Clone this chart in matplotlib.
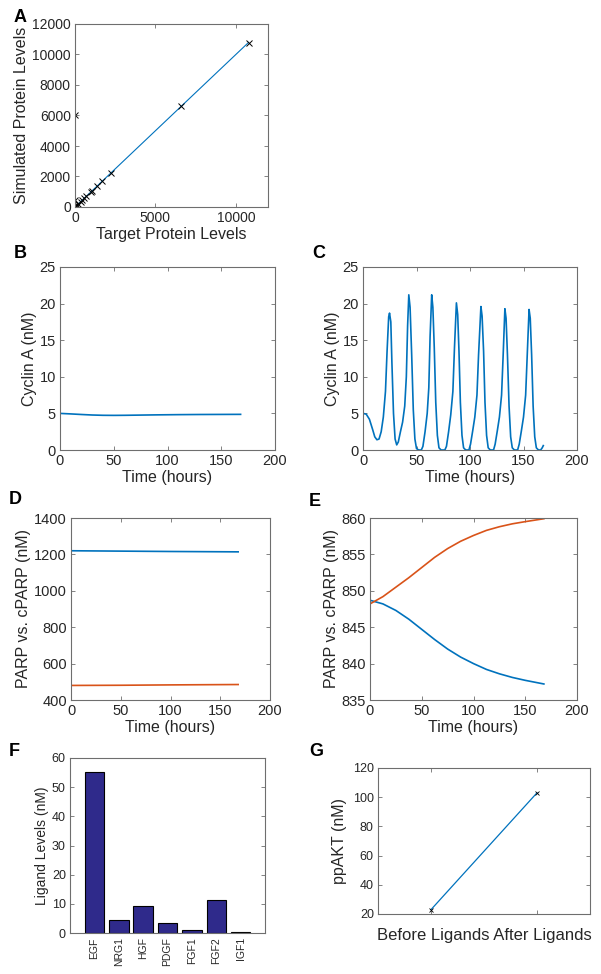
import matplotlib
matplotlib.use('Agg')
import matplotlib.pyplot as plt

plt.rcParams['font.family'] = ['Liberation Sans', 'DejaVu Sans']

BLUE = '#0072BD'
ORANGE = '#D95319'
GRAY = '#6e6e6e'
TXT = '#262626'

# Panel A: target vs simulated protein levels
target = [10800, 6600, 2260, 1690, 1380, 1070, 990, 680, 555, 450, 350, 200, 100, 50, 20, 10, 0, 20, 0]
simulated = [10750, 6600, 2250, 1700, 1380, 1070, 990, 690, 560, 450, 360, 210, 110, 60, 440, 20, 10, 80, 6000]
identity = [0, 10800]

# Panel B: cyclin A, no oscillation
b_time = [0, 10, 20, 30, 40, 50, 60, 75, 90, 110, 130, 150, 168]
b_cyc = [5.0, 4.93, 4.85, 4.78, 4.74, 4.73, 4.74, 4.77, 4.80, 4.83, 4.85, 4.86, 4.87]

# Panel C: cyclin A, oscillating
c_time = [0, 3, 6, 9, 11, 13, 15, 17, 19, 21, 22.5, 24, 24.8, 26, 27, 28.5, 30, 31.5, 33, 35,
          37, 39, 40.5, 41.7, 42.8, 44, 45.5, 47, 48.5, 50, 52, 54.5, 56, 58, 60, 61.5, 62.7,
          64.2, 65.3, 66.6, 68, 69.5, 71, 73, 76.5, 78, 80, 82, 84, 85.5, 87.3, 88.5, 89.7, 91,
          92.5, 94, 96, 99, 100.5, 102.5, 104.5, 106.5, 108, 110.2, 111.3, 112.7, 114, 115.5,
          117, 119, 122, 123.5, 125.5, 127.5, 129.5, 131, 132.6, 133.7, 135, 136.5, 138, 139.5,
          141.5, 144.5, 146, 148, 150, 152, 153.5, 155.2, 156.3, 157.6, 159, 160.5, 162, 164,
          166, 167.5, 168.5]
c_cyc = [5.0, 4.9, 4.2, 2.8, 1.8, 1.4, 1.5, 2.5, 4.5, 8.0, 13.5, 18.2, 18.7, 17.5, 12.0, 5.0,
         1.5, 0.7, 1.1, 2.5, 3.8, 6.0, 10.0, 17.0, 21.2, 19.5, 13.0, 5.5, 1.5, 0.2, 0.0, 0.0,
         0.5, 2.5, 5.0, 8.5, 15.5, 21.2, 19.5, 14.0, 6.5, 2.0, 0.3, 0.0, 0.0, 0.5, 2.5, 4.8, 8.0,
         14.0, 20.1, 18.5, 13.5, 6.5, 2.0, 0.3, 0.0, 0.0, 0.8, 2.6, 4.5, 7.5, 13.0, 19.6, 18.3,
         13.5, 6.5, 2.0, 0.3, 0.0, 0.0, 0.8, 2.6, 4.5, 7.5, 13.0, 19.3, 18.0, 13.0, 6.0, 1.8,
         0.3, 0.0, 0.0, 0.8, 2.6, 4.5, 7.5, 13.0, 19.2, 18.0, 13.0, 6.0, 1.8, 0.3, 0.0, 0.0,
         0.3, 0.6]

# Panel D: PARP vs cPARP
d_time = [0, 50, 100, 168]
d_parp = [1220, 1218, 1216, 1214]
d_cparp = [480, 481, 483, 485]

# Panel E: PARP vs cPARP
e_time = [0, 12.5, 25, 37.5, 50, 62.5, 75, 87.5, 100, 112.5, 125, 137.5, 150, 168]
e_parp = [848.7, 848.2, 847.3, 846.1, 844.7, 843.3, 842.0, 840.9, 840.0, 839.2, 838.6, 838.1, 837.7, 837.2]
e_cparp = [848.2, 849.2, 850.5, 851.8, 853.2, 854.6, 855.8, 856.8, 857.6, 858.3, 858.8, 859.2, 859.5, 859.9]

# Panel F: ligand levels
ligands = ['EGF', 'NRG1', 'HGF', 'PDGF', 'FGF1', 'FGF2', 'IGF1']
ligand_levels = [55.3, 4.4, 9.4, 3.5, 1.2, 11.4, 0.2]

# Panel G: ppAKT
g_pos = [1, 2]
ppakt = [23, 103]

W, H = 601, 974
fig = plt.figure(figsize=(6.01, 9.74), dpi=100)


def make_ax(left, right, top, bottom):
    ax = fig.add_axes([left / W, 1 - bottom / H, (right - left) / W, (bottom - top) / H])
    for s in ax.spines.values():
        s.set_color(GRAY)
        s.set_linewidth(0.8)
    ax.tick_params(direction='in', top=True, right=True, length=3, width=0.6,
                   color=GRAY, labelcolor=TXT, labelsize=9, pad=3)
    return ax


def panel_label(x, y, s):
    fig.text(x / W, 1 - y / H, s, fontsize=13, fontweight='bold', ha='center', va='center')


# A
ax = make_ax(75, 268, 24, 207)
ax.plot(identity, identity, color=BLUE, lw=0.8)
ax.plot(target, simulated, 'x', color='k', ms=4, mew=0.7)
ax.set_xlim(0, 12000)
ax.set_ylim(0, 12000)
ax.set_xticks([0, 5000, 10000])
ax.set_yticks(range(0, 12001, 2000))
ax.tick_params(labelsize=10)
ax.set_xlabel('Target Protein Levels', fontsize=11.5, color=TXT, labelpad=1)
ax.set_ylabel('Simulated Protein Levels', fontsize=11.5, color=TXT, labelpad=2)
panel_label(20, 17, 'A')

# B
ax = make_ax(60, 275, 267, 450)
ax.plot(b_time, b_cyc, color=BLUE, lw=1.2)
ax.set_xlim(0, 200)
ax.set_ylim(0, 25)
ax.set_xticks(range(0, 201, 50))
ax.set_yticks(range(0, 26, 5))
ax.tick_params(labelsize=10.5)
ax.set_xlabel('Time (hours)', fontsize=11.5, color=TXT, labelpad=1)
ax.set_ylabel('Cyclin A (nM)', fontsize=11.5, color=TXT, labelpad=2)
panel_label(20, 254, 'B')

# C
ax = make_ax(363, 577, 267, 450)
ax.plot(c_time, c_cyc, color=BLUE, lw=1.2)
ax.set_xlim(0, 200)
ax.set_ylim(0, 25)
ax.set_xticks(range(0, 201, 50))
ax.set_yticks(range(0, 26, 5))
ax.tick_params(labelsize=10.5)
ax.set_xlabel('Time (hours)', fontsize=11.5, color=TXT, labelpad=1)
ax.set_ylabel('Cyclin A (nM)', fontsize=11.5, color=TXT, labelpad=2)
panel_label(319, 253, 'C')

# D
ax = make_ax(71, 270, 518, 700)
ax.plot(d_time, d_parp, color=BLUE, lw=1.2)
ax.plot(d_time, d_cparp, color=ORANGE, lw=1.2)
ax.set_xlim(0, 200)
ax.set_ylim(400, 1400)
ax.set_xticks(range(0, 201, 50))
ax.set_yticks(range(400, 1401, 200))
ax.tick_params(labelsize=10.5)
ax.set_xlabel('Time (hours)', fontsize=11.5, color=TXT, labelpad=1)
ax.set_ylabel('PARP vs. cPARP (nM)', fontsize=11.5, color=TXT, labelpad=2)
panel_label(15, 500, 'D')

# E
ax = make_ax(370, 577, 518, 700)
ax.plot(e_time, e_parp, color=BLUE, lw=1.2)
ax.plot(e_time, e_cparp, color=ORANGE, lw=1.2)
ax.set_xlim(0, 200)
ax.set_ylim(835, 860)
ax.set_xticks(range(0, 201, 50))
ax.set_yticks(range(835, 861, 5))
ax.tick_params(labelsize=10.5)
ax.set_xlabel('Time (hours)', fontsize=11.5, color=TXT, labelpad=1)
ax.set_ylabel('PARP vs. cPARP (nM)', fontsize=11.5, color=TXT, labelpad=2)
panel_label(315, 501, 'E')

# F
ax = make_ax(70, 265, 758, 933)
ax.bar(range(1, len(ligands) + 1), ligand_levels, width=0.8, color='#2f2a8b',
       edgecolor='k', linewidth=0.8)
ax.set_xlim(0, 8)
ax.set_ylim(0, 60)
ax.set_yticks(range(0, 61, 10))
ax.set_xticks(range(1, len(ligands) + 1))
ax.set_xticklabels(ligands, rotation=90, fontsize=7.5)
ax.tick_params(axis='x', length=0)
ax.tick_params(axis='y', labelsize=9)
ax.set_ylabel('Ligand Levels (nM)', fontsize=10, color=TXT, labelpad=2)
panel_label(14, 752, 'F')

# G
ax = make_ax(378, 590, 768, 914)
ax.plot(g_pos, ppakt, color=BLUE, lw=0.9)
ax.plot(g_pos, ppakt, 'x', color='k', ms=3.5, mew=0.6)
ax.set_xlim(0.5, 2.5)
ax.set_ylim(20, 120)
ax.set_xticks(g_pos)
ax.set_xticklabels([])
ax.set_yticks(range(20, 121, 20))
ax.tick_params(labelsize=9)
ax.set_xlabel('Before Ligands After Ligands', fontsize=12, color=TXT, labelpad=7)
ax.set_ylabel('ppAKT (nM)', fontsize=11.5, color=TXT, labelpad=4)
panel_label(316, 752, 'G')

fig.savefig('out.png', dpi=100, facecolor='white')
